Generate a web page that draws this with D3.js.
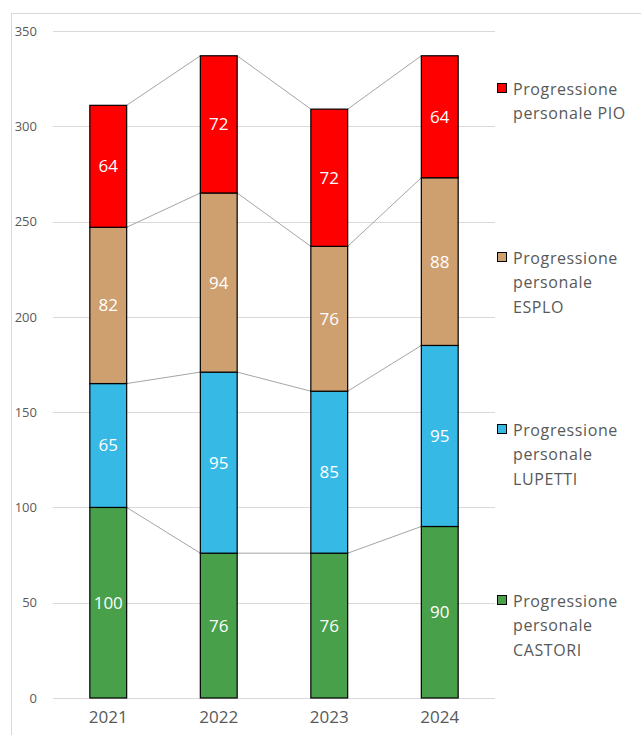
<!DOCTYPE html>
<html>
<head>
<meta charset="utf-8">
<script src="https://cdn.jsdelivr.net/npm/d3@7"></script>
<style>
  html, body { margin: 0; padding: 0; background: #fff; }
  svg { display: block; font-family: "Open Sans", sans-serif; }
</style>
</head>
<body>
<svg id="chart" width="641" height="735"></svg>
<script>
// Years on the category axis
const years = ["2021", "2022", "2023", "2024"];
// Stacked series, bottom to top
const castori = [100, 76, 76, 90];
const lupetti = [65, 95, 85, 95];
const esplo = [82, 94, 76, 88];
const pio = [64, 72, 72, 64];
const seriesNames = [
  "Progressione personale CASTORI",
  "Progressione personale LUPETTI",
  "Progressione personale ESPLO",
  "Progressione personale PIO"
];
const seriesColors = ["#48A04A", "#37B9E5", "#CE9F6F", "#FF0000"];
// Legend wording, one line per entry
const legendLines = [
  ["Progressione", "personale", "CASTORI"],
  ["Progressione", "personale", "LUPETTI"],
  ["Progressione", "personale", "ESPLO"],
  ["Progressione", "personale PIO"]
];
const yTicks = [0, 50, 100, 150, 200, 250, 300, 350];

const seriesValues = [castori, lupetti, esplo, pio];
const rows = years.map((y, i) => {
  const r = { year: y };
  seriesValues.forEach((vals, s) => { r["s" + s] = vals[i]; });
  return r;
});
const keys = seriesValues.map((_, s) => "s" + s);
const stacked = d3.stack().keys(keys)(rows);

const svg = d3.select("#chart");

// outer chart frame
svg.append("rect")
  .attr("x", 11.5).attr("y", 13.5)
  .attr("width", 700).attr("height", 800)
  .attr("fill", "none").attr("stroke", "#D9D9D9");

const x = d3.scaleBand().domain(years).range([53, 495]).paddingInner(2 / 3).paddingOuter(1 / 3);
const y = d3.scaleLinear().domain([0, 350]).range([698, 31]);

// gridlines
svg.append("g").selectAll("line").data(yTicks).join("line")
  .attr("x1", 53).attr("x2", 495)
  .attr("y1", d => Math.round(y(d)) + 0.5).attr("y2", d => Math.round(y(d)) + 0.5)
  .attr("stroke", "#D9D9D9").attr("stroke-width", 1);

// y axis labels
const yAxis = d3.axisLeft(y).tickValues(yTicks).tickSize(0).tickPadding(0);
const gy = svg.append("g").attr("transform", "translate(37,0)").call(yAxis);
gy.select(".domain").remove();
gy.selectAll("text").attr("font-size", 13).attr("fill", "#595959").attr("font-family", "Open Sans, sans-serif");

// x axis labels
const xAxis = d3.axisBottom(x).tickSize(0).tickPadding(0);
const gx = svg.append("g").attr("transform", "translate(0,711)").call(xAxis);
gx.select(".domain").remove();
gx.selectAll("text").attr("font-size", 17).attr("fill", "#595959").attr("font-family", "Open Sans, sans-serif");

// connector lines between tops of each segment
const bw = x.bandwidth();
stacked.forEach(layer => {
  for (let i = 0; i < years.length - 1; i++) {
    svg.append("line")
      .attr("x1", x(years[i]) + bw).attr("y1", y(layer[i][1]))
      .attr("x2", x(years[i + 1])).attr("y2", y(layer[i + 1][1]))
      .attr("stroke", "#A5A5A5").attr("stroke-width", 1);
  }
});

// bars
stacked.forEach((layer, s) => {
  const g = svg.append("g");
  g.selectAll("rect").data(layer).join("rect")
    .attr("x", d => x(d.data.year))
    .attr("y", d => y(d[1]))
    .attr("width", bw)
    .attr("height", d => y(d[0]) - y(d[1]))
    .attr("fill", seriesColors[s])
    .attr("stroke", "#000").attr("stroke-width", 1.2);
  g.selectAll("text").data(layer).join("text")
    .attr("x", d => x(d.data.year) + bw / 2)
    .attr("y", d => y((d[0] + d[1]) / 2))
    .attr("dy", "0.35em")
    .attr("text-anchor", "middle")
    .attr("font-size", 17)
    .attr("fill", "#fff")
    .text(d => d[1] - d[0]);
});

// legend, top entry is the top series
const legendTop = [89, 258, 430, 601];
const legendOrder = [3, 2, 1, 0];
legendOrder.forEach((s, k) => {
  const ly = legendTop[k];
  svg.append("rect")
    .attr("x", 497.5).attr("y", ly - 5.5)
    .attr("width", 9).attr("height", 9)
    .attr("fill", seriesColors[s]).attr("stroke", "#000").attr("stroke-width", 1);
  const t = svg.append("text")
    .attr("x", 513).attr("y", ly)
    .attr("font-size", 16).attr("fill", "#595959")
    .attr("letter-spacing", 0.6);
  legendLines[s].forEach((line, j) => {
    t.append("tspan").attr("x", 513).attr("y", ly + j * 24.5).attr("dy", "0.35em").text(line);
  });
});
</script>
</body>
</html>
